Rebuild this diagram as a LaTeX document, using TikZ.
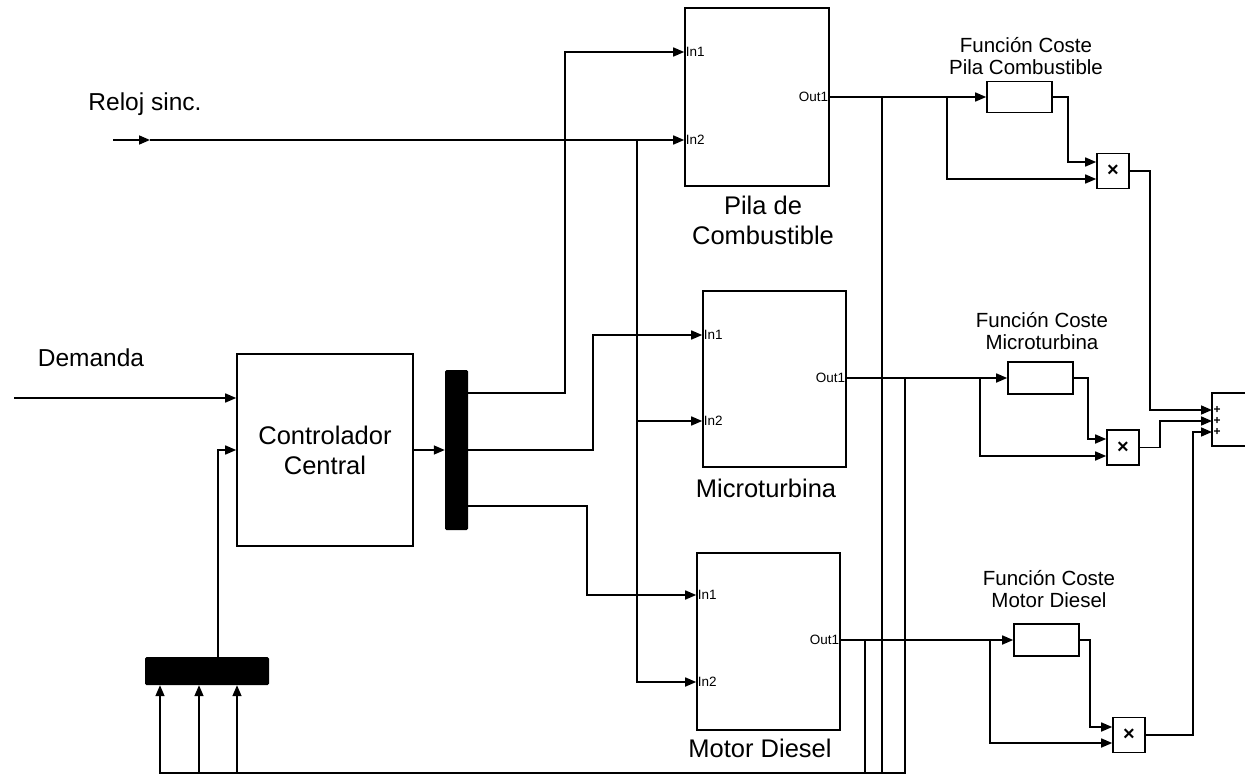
\documentclass[tikz,border=0pt]{standalone}
\usepackage{fontspec}
\setmainfont{Liberation Sans}
\usetikzlibrary{arrows.meta}

\tikzset{
  blk/.style={draw, line width=1.6pt, fill=white, inner sep=0pt},
  barblk/.style={fill=black, rounded corners=1.5pt, inner sep=0pt},
  sig/.style={line width=1.6pt, -{Triangle[length=11pt,width=9pt]}},
  wire/.style={line width=1.6pt},
  port/.style={font=\fontsize{13.5}{13.5}\selectfont, inner sep=1.5pt},
  bcap/.style={font=\fontsize{25.5}{30}\selectfont, align=center},
  fcap/.style={font=\fontsize{20.5}{22}\selectfont, align=center},
  mult/.style={blk, minimum width=32, minimum height=35, font=\fontsize{20}{20}\selectfont\bfseries},
}

\begin{document}
\begin{tikzpicture}[x=1pt,y=-1pt]
\useasboundingbox (0,0) rectangle (1245,779);

% bloques principales
\node[blk, minimum width=176, minimum height=192, font=\fontsize{25.5}{30}\selectfont, align=center] (ctrl) at (325,450) {Controlador\\Central};
\node[barblk, minimum width=23, minimum height=160] (dmx) at (456.5,450) {};
\node[barblk, minimum width=124, minimum height=28] (mux) at (207,671) {};
\node[blk, minimum width=144, minimum height=178] (pila) at (757,97) {};
\node[blk, minimum width=143, minimum height=176] (micro) at (774.5,379) {};
\node[blk, minimum width=143, minimum height=177] (diesel) at (768.5,641.5) {};

% funciones de coste
\node[blk, minimum width=65, minimum height=31] (fPila) at (1019.5,97) {};
\node[blk, minimum width=65, minimum height=32] (fMicro) at (1040.5,378) {};
\node[blk, minimum width=65, minimum height=32] (fDiesel) at (1046.5,640) {};
\node[mult] (xPila) at (1113,171) {×};
\node[mult] (xMicro) at (1123,447.5) {×};
\node[mult] (xDiesel) at (1129,735) {×};

% textos
\node[font=\fontsize{24.5}{24.5}\selectfont] (reloj) at (145,104) {Reloj sinc.};
\node[font=\fontsize{24.5}{24.5}\selectfont] (demanda) at (91,358) {Demanda};
\node[bcap] (capPila) at (763,220) {Pila de\\Combustible};
\node[bcap] (capMicro) at (766,488) {Microturbina};
\node[bcap] (capDiesel) at (760,748) {Motor Diesel};
\node[fcap] (tPila) at (1026,56) {Función Coste\\Pila Combustible};
\node[fcap] (tMicro) at (1042,331) {Función Coste\\Microturbina};
\node[fcap] (tDiesel) at (1049,589) {Función Coste\\Motor Diesel};

% puertos
\coordinate (pilaIn1) at (pila.west |- 0,52);
\coordinate (pilaIn2) at (pila.west |- 0,140);
\coordinate (pilaOut) at (pila.east |- 0,97);
\coordinate (microIn1) at (micro.west |- 0,335);
\coordinate (microIn2) at (micro.west |- 0,421);
\coordinate (microOut) at (micro.east |- 0,378);
\coordinate (dieselIn1) at (diesel.west |- 0,595);
\coordinate (dieselIn2) at (diesel.west |- 0,682);
\coordinate (dieselOut) at (diesel.east |- 0,640);
\foreach \b in {pila,micro,diesel} {
  \node[port, anchor=west] at (\b In1) {In1};
  \node[port, anchor=west] at (\b In2) {In2};
  \node[port, anchor=east] at (\b Out) {Out1};
}
\coordinate (xPilaIn1) at (xPila.west |- 0,162);
\coordinate (xPilaIn2) at (xPila.west |- 0,179);
\coordinate (xMicroIn1) at (xMicro.west |- 0,439);
\coordinate (xMicroIn2) at (xMicro.west |- 0,456);
\coordinate (xDieselIn1) at (xDiesel.west |- 0,727);
\coordinate (xDieselIn2) at (xDiesel.west |- 0,743);

% sumador (cortado en el borde)
\draw[wire] (1250,393) -| (1212,446) -- (1250,446);
\coordinate (sumIn1) at (1212,410);
\coordinate (sumIn2) at (1212,421);
\coordinate (sumIn3) at (1212,432);
\foreach \s in {1,2,3} {
  \node[font=\fontsize{12}{12}\selectfont\bfseries, inner sep=0pt] at ([xshift=5pt]sumIn\s) {+};
}

% reloj y demanda
\coordinate (relojIn) at (113,140);
\coordinate (relojA) at (150,140);
\draw[sig] (relojIn) -- (relojA);
\draw[sig] (relojA) -- (pilaIn2);
\draw[sig] (637,0 |- pilaIn2) |- (microIn2);
\draw[sig] (637,0 |- pilaIn2) |- (dieselIn2);
\coordinate (demIn) at (14,398);
\draw[sig] (demIn) -- (demIn -| ctrl.west);

% controlador y demux
\draw[sig] (218,0 |- mux.north) |- (ctrl.west);
\draw[sig] (ctrl.east) -- (dmx.west);
\draw[sig] (dmx.east |- 0,393) -| (565,0 |- pilaIn1) -- (pilaIn1);
\draw[sig] (dmx.east) -| (593,0 |- microIn1) -- (microIn1);
\draw[sig] (dmx.east |- 0,506) -| (587,0 |- dieselIn1) -- (dieselIn1);

% salidas y costes
\draw[sig] (pilaOut) -- (fPila.west);
\draw[sig] (947,0 |- pilaOut) |- (xPilaIn2);
\draw[sig] (fPila.east) -| (1068,0 |- xPilaIn1) -- (xPilaIn1);
\draw[sig] (xPila.east) -| (1150,0 |- sumIn1) -- (sumIn1);

\draw[sig] (microOut) -- (fMicro.west);
\draw[sig] (980,0 |- microOut) |- (xMicroIn2);
\draw[sig] (fMicro.east) -| (1088,0 |- xMicroIn1) -- (xMicroIn1);
\draw[sig] (xMicro.east) -| (1160,0 |- sumIn2) -- (sumIn2);

\draw[sig] (dieselOut) -- (fDiesel.west);
\draw[sig] (990,0 |- dieselOut) |- (xDieselIn2);
\draw[sig] (fDiesel.east) -| (1090,0 |- xDieselIn1) -- (xDieselIn1);
\draw[sig] (xDiesel.east) -| (1193,0 |- sumIn3) -- (sumIn3);

% realimentacion
\coordinate (muxIn1) at (160,0 |- mux.south);
\coordinate (muxIn2) at (199,0 |- mux.south);
\coordinate (muxIn3) at (237,0 |- mux.south);
\draw[sig] (905,0 |- microOut) -- (905,773) -| (muxIn1);
\draw[sig] (882,0 |- pilaOut) -- (882,773) -| (muxIn2);
\draw[sig] (865,0 |- dieselOut) -- (865,773) -| (muxIn3);
\end{tikzpicture}
\end{document}
